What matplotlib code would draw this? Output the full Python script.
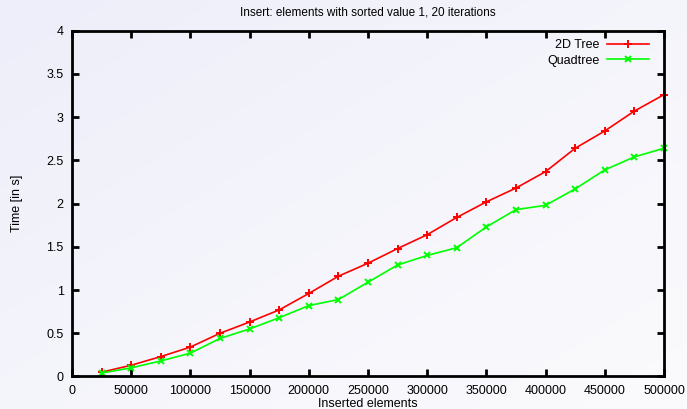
from matplotlib import pyplot as plt
from matplotlib.colors import LinearSegmentedColormap
import numpy as np

# data
elements = [25000, 50000, 75000, 100000, 125000, 150000, 175000, 200000, 225000, 250000,
            275000, 300000, 325000, 350000, 375000, 400000, 425000, 450000, 475000, 500000]
tree2d = [0.05, 0.13, 0.23, 0.34, 0.50, 0.63, 0.77, 0.96, 1.16, 1.31,
          1.48, 1.64, 1.84, 2.02, 2.18, 2.37, 2.64, 2.84, 3.07, 3.26]
quadtree = [0.04, 0.10, 0.18, 0.27, 0.44, 0.55, 0.68, 0.82, 0.89, 1.09,
            1.29, 1.40, 1.49, 1.73, 1.93, 1.98, 2.17, 2.39, 2.54, 2.64]

xticks = [0, 50000, 100000, 150000, 200000, 250000, 300000, 350000, 400000, 450000, 500000]
yticks = [0, 0.5, 1, 1.5, 2, 2.5, 3, 3.5, 4]

plt.rcParams['font.family'] = ['Liberation Sans', 'DejaVu Sans']

fig = plt.figure(figsize=(6.87, 4.09), dpi=100)

# light bluish gradient background
bg = fig.add_axes([0, 0, 1, 1], zorder=-10)
gx, gy = np.meshgrid(np.linspace(0, 1, 200), np.linspace(0, 1, 200))
grad = 0.5 * gx + 0.5 * (1 - gy)
cmap = LinearSegmentedColormap.from_list('bg', ['#eeeefa', '#fbfbfd'])
bg.imshow(grad, cmap=cmap, aspect='auto', extent=[0, 1, 0, 1], origin='lower')
bg.axis('off')

ax = fig.add_axes([0.1048, 0.0795, 0.8617, 0.8455])
ax.patch.set_alpha(0)

ax.plot(elements, tree2d, color='#ff0000', marker='+', markersize=5.5, markeredgewidth=1.4,
        linewidth=1.2, label='2D Tree', clip_on=False)
ax.plot(elements, quadtree, color='#00ff00', marker='x', markersize=4.5, markeredgewidth=1.4,
        linewidth=1.2, label='Quadtree', clip_on=False)

ax.set_xlim(0, 500000)
ax.set_ylim(0, 4)
ax.set_xticks(xticks)
ax.set_xticklabels([str(t) for t in xticks])
ax.set_yticks(yticks)
ax.set_yticklabels(['0', '0.5', '1', '1.5', '2', '2.5', '3', '3.5', '4'])

ax.tick_params(direction='in', top=True, right=True, length=5, width=2,
               labelsize=9, pad=6)
for s in ax.spines.values():
    s.set_linewidth(2)

ax.set_title('Insert: elements with sorted value 1, 20 iterations', fontsize=8.5, pad=11)
ax.set_xlabel('Inserted elements', fontsize=9, labelpad=1)
ax.set_ylabel('Time [in s]', fontsize=9, labelpad=17)

ax.legend(loc='upper right', frameon=False, markerfirst=False, fontsize=9,
          handlelength=3.4, handletextpad=0.6, labelspacing=0.25,
          borderaxespad=0.3, bbox_to_anchor=(0.99, 1.0))

plt.savefig('out.png', dpi=100)
